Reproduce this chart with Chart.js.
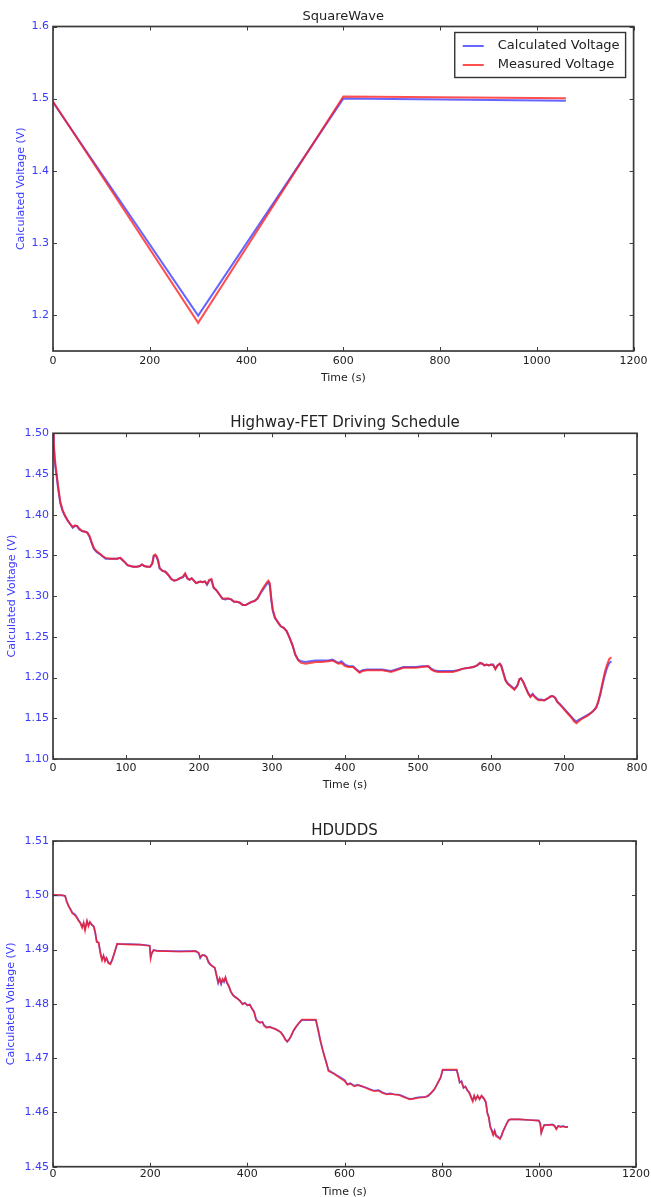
<!DOCTYPE html>
<html>
<head>
<meta charset="utf-8">
<script src="https://cdn.jsdelivr.net/npm/chart.js@4"></script>
<style>
  html, body { margin: 0; padding: 0; background: #fff; overflow: hidden; width: 651px; height: 1197px; }
  .wrap { position: absolute; left: 0; width: 651px; }
  canvas { display: block; }
</style>
</head>
<body>
<div class="wrap" style="top:0px"><canvas id="c1" width="651" height="390"></canvas></div>
<div class="wrap" style="top:390px"><canvas id="c2" width="651" height="410"></canvas></div>
<div class="wrap" style="top:800px"><canvas id="c3" width="651" height="405"></canvas></div>
<script>
// ---------- DATA ----------
const seriesNames = ['Calculated Voltage', 'Measured Voltage'];
const titles = ['SquareWave', 'Highway-FET Driving Schedule', 'HDUDDS'];
const xAxisTitle = 'Time (s)';
const yAxisTitle = 'Calculated Voltage (V)';

// Chart 1: SquareWave
const sqTime = [0, 300, 600, 1060];
const sqCalc = [1.495, 1.199, 1.500, 1.497];
const sqMeas = [1.496, 1.189, 1.503, 1.5005];
const sqXTicks = [0, 200, 400, 600, 800, 1000, 1200];
const sqYTicks = [1.2, 1.3, 1.4, 1.5, 1.6];

// Chart 2: Highway-FET
const fetTime = [0,1,2,3,5,7,10,13,16,20, 24,27,30,33,36,40,44,47,50,53, 56,60,64,68,72,78,84,88,92,95,
  98,102,106,110,115,119,122,125,129,133, 136,138,140,142,144,146,150,154,158,162, 166,170,174,178,181,184,187,190,193,196,
  199,202,205,208,211,214,217,220,224,228, 232,236,240,244,248,252,256,260,264,268, 272,276,280,284,287,290,293,295,297,299,
  301,304,308,312,316,320,324,328,332,336, 340,346,352,360,368,377,383,387,391,395, 400,405,411,416,420,424,430,440,451,457,
  463,470,480,490,497,505,514,518,522,527, 531,540,548,555,562,570,576,581,585,588, 591,594,597,600,603,606,609,612,614,617,
  620,623,627,632,636,639,641,644,648,651, 654,657,661,665,669,673,677,682,685,688, 691,694,698,702,706,710,714,717,720,724,
  728,732,736,740,744,747,750,753,756,759, 762,765];
const fetCalc = [1.500,1.485,1.470,1.460,1.447,1.432,1.414,1.405,1.399,1.393, 1.388,1.384,1.386,1.386,1.382,1.380,1.379,1.378,1.373,1.365,
  1.358,1.354,1.352,1.349,1.346,1.346,1.346,1.346,1.347,1.344, 1.342,1.338,1.337,1.336,1.336,1.337,1.339,1.337,1.336,1.336,
  1.340,1.349,1.350,1.348,1.343,1.334,1.331,1.330,1.326,1.321, 1.319,1.320,1.322,1.323,1.327,1.322,1.320,1.322,1.319,1.316,
  1.317,1.318,1.317,1.318,1.314,1.319,1.320,1.310,1.307,1.302, 1.297,1.296,1.297,1.296,1.293,1.293,1.292,1.289,1.289,1.291,
  1.293,1.294,1.297,1.303,1.307,1.311,1.315,1.317,1.313,1.295, 1.282,1.273,1.268,1.263,1.261,1.257,1.249,1.240,1.228,1.222,
  1.220,1.219,1.220,1.221,1.221,1.221,1.222,1.220,1.218,1.220, 1.216,1.214,1.214,1.210,1.207,1.209,1.210,1.210,1.210,1.209,
  1.208,1.210,1.213,1.213,1.213,1.214,1.214,1.211,1.209,1.208, 1.208,1.208,1.208,1.209,1.211,1.212,1.213,1.215,1.218,1.217,
  1.215,1.216,1.215,1.216,1.216,1.211,1.215,1.217,1.215,1.206, 1.197,1.193,1.190,1.186,1.190,1.198,1.199,1.195,1.187,1.181,
  1.177,1.180,1.176,1.173,1.173,1.172,1.174,1.177,1.177,1.175, 1.170,1.168,1.164,1.160,1.156,1.152,1.148,1.146,1.148,1.150,
  1.152,1.154,1.156,1.159,1.163,1.170,1.180,1.192,1.203,1.212, 1.218,1.220];
const fetMeas = [1.500,1.490,1.476,1.465,1.450,1.435,1.416,1.406,1.400,1.393, 1.388,1.385,1.387,1.386,1.383,1.380,1.379,1.378,1.374,1.366,
  1.359,1.355,1.352,1.349,1.347,1.346,1.346,1.346,1.347,1.345, 1.342,1.338,1.337,1.336,1.336,1.337,1.339,1.337,1.336,1.336,
  1.340,1.350,1.351,1.349,1.344,1.335,1.331,1.330,1.326,1.321, 1.319,1.320,1.322,1.324,1.328,1.322,1.320,1.322,1.319,1.316,
  1.317,1.318,1.317,1.318,1.315,1.320,1.321,1.311,1.307,1.302, 1.297,1.297,1.297,1.296,1.293,1.293,1.292,1.289,1.289,1.291,
  1.293,1.294,1.297,1.304,1.309,1.313,1.317,1.319,1.316,1.298, 1.284,1.274,1.268,1.263,1.261,1.257,1.249,1.240,1.228,1.221,
  1.218,1.217,1.218,1.219,1.219,1.220,1.221,1.219,1.217,1.218, 1.214,1.213,1.213,1.209,1.206,1.208,1.209,1.209,1.209,1.208,
  1.207,1.209,1.212,1.212,1.212,1.213,1.214,1.210,1.208,1.207, 1.207,1.207,1.207,1.209,1.211,1.212,1.213,1.215,1.218,1.217,
  1.215,1.216,1.215,1.216,1.215,1.210,1.215,1.217,1.214,1.205, 1.196,1.192,1.189,1.185,1.190,1.198,1.199,1.195,1.186,1.180,
  1.176,1.179,1.175,1.172,1.172,1.172,1.174,1.177,1.177,1.175, 1.170,1.167,1.163,1.159,1.155,1.151,1.146,1.144,1.146,1.149,
  1.151,1.153,1.156,1.159,1.163,1.171,1.182,1.195,1.207,1.216, 1.223,1.225];
const fetXTicks = [0, 100, 200, 300, 400, 500, 600, 700, 800];
const fetYTicks = [1.10, 1.15, 1.20, 1.25, 1.30, 1.35, 1.40, 1.45, 1.50];

// Chart 3: HDUDDS
const hdTime = [0,10,20,25,28,32,36,40,44,48, 52,56,60,63,66,70,73,76,80,84, 87,90,94,98,101,104,107,110,114,118,
  122,127,132,140,160,180,195,199,201,203, 207,215,235,260,294,300,303,307,311,316, 320,324,328,333,337,340,343,346,349,352,
  355,358,362,366,371,375,380,385,390,395, 400,405,410,414,418,422,426,431,435,440, 446,452,458,464,469,474,478,482,486,490,
  495,500,507,512,525,541,546,550,555,559, 563,567,572,578,585,593,600,606,612,620, 627,635,644,652,661,670,678,687,695,703,
  712,720,728,734,740,746,755,765,772,778, 785,791,798,802,815,831,834,837,841,845, 849,853,857,861,864,867,870,874,878,882,
  887,891,894,897,900,903,906,909,912,916, 920,923,926,930,934,938,942,960,980,1000, 1003,1005,1008,1011,1020,1028,1032,1036,1040,1045,
  1050,1055,1060];
const hdCalc = [1.5000,1.5000,1.5000,1.4999,1.4990,1.4980,1.4975,1.4968,1.4966,1.4962, 1.4955,1.4950,1.4942,1.4948,1.4938,1.4952,1.4945,1.4950,1.4946,1.4942,
  1.4930,1.4915,1.4912,1.4893,1.4882,1.4888,1.4880,1.4885,1.4876,1.4874, 1.4882,1.4895,1.4910,1.4910,1.4910,1.4909,1.4908,1.4907,1.4886,1.4892,
  1.4899,1.4898,1.4897,1.4897,1.4897,1.4893,1.4884,1.4889,1.4890,1.4887, 1.4876,1.4872,1.4870,1.4866,1.4850,1.4838,1.4846,1.4836,1.4845,1.4840,
  1.4848,1.4838,1.4832,1.4822,1.4816,1.4812,1.4810,1.4805,1.4800,1.4802, 1.4797,1.4799,1.4790,1.4786,1.4772,1.4768,1.4765,1.4767,1.4760,1.4757,
  1.4758,1.4755,1.4754,1.4750,1.4748,1.4742,1.4735,1.4730,1.4734,1.4740, 1.4750,1.4757,1.4765,1.4770,1.4770,1.4770,1.4750,1.4733,1.4715,1.4702,
  1.4690,1.4678,1.4675,1.4672,1.4668,1.4664,1.4660,1.4652,1.4654,1.4649, 1.4651,1.4648,1.4646,1.4643,1.4640,1.4641,1.4637,1.4634,1.4635,1.4633,
  1.4633,1.4630,1.4627,1.4625,1.4625,1.4627,1.4628,1.4628,1.4630,1.4635, 1.4642,1.4652,1.4664,1.4678,1.4678,1.4678,1.4668,1.4655,1.4658,1.4645,
  1.4648,1.4640,1.4637,1.4628,1.4622,1.4630,1.4625,1.4630,1.4625,1.4630, 1.4625,1.4618,1.4600,1.4592,1.4575,1.4568,1.4560,1.4567,1.4558,1.4556,
  1.4552,1.4557,1.4565,1.4572,1.4580,1.4586,1.4587,1.4587,1.4586,1.4585, 1.4580,1.4563,1.4570,1.4577,1.4577,1.4578,1.4576,1.4570,1.4575,1.4574,
  1.4575,1.4573,1.4574];
const hdMeas = [1.5001,1.5001,1.5000,1.4998,1.4988,1.4981,1.4973,1.4966,1.4964,1.4960, 1.4954,1.4949,1.4940,1.4950,1.4935,1.4953,1.4943,1.4951,1.4945,1.4943,
  1.4932,1.4914,1.4913,1.4890,1.4880,1.4889,1.4878,1.4884,1.4875,1.4873, 1.4881,1.4896,1.4911,1.4910,1.4909,1.4909,1.4907,1.4907,1.4884,1.4893,
  1.4899,1.4897,1.4897,1.4896,1.4897,1.4894,1.4886,1.4890,1.4889,1.4886, 1.4878,1.4873,1.4869,1.4867,1.4852,1.4840,1.4847,1.4838,1.4846,1.4842,
  1.4849,1.4840,1.4833,1.4823,1.4815,1.4813,1.4809,1.4806,1.4799,1.4801, 1.4798,1.4798,1.4791,1.4784,1.4770,1.4767,1.4766,1.4766,1.4759,1.4756,
  1.4757,1.4756,1.4753,1.4751,1.4747,1.4741,1.4734,1.4731,1.4735,1.4741, 1.4751,1.4758,1.4766,1.4771,1.4771,1.4771,1.4752,1.4734,1.4716,1.4703,
  1.4691,1.4676,1.4674,1.4671,1.4667,1.4662,1.4658,1.4651,1.4653,1.4648, 1.4650,1.4649,1.4645,1.4642,1.4639,1.4640,1.4636,1.4633,1.4634,1.4633,
  1.4632,1.4629,1.4626,1.4624,1.4625,1.4626,1.4627,1.4628,1.4631,1.4636, 1.4643,1.4653,1.4665,1.4679,1.4679,1.4679,1.4667,1.4656,1.4656,1.4646,
  1.4647,1.4641,1.4635,1.4626,1.4620,1.4631,1.4623,1.4631,1.4624,1.4631, 1.4626,1.4619,1.4598,1.4590,1.4572,1.4566,1.4558,1.4565,1.4556,1.4554,
  1.4551,1.4556,1.4564,1.4572,1.4580,1.4586,1.4587,1.4587,1.4586,1.4585, 1.4578,1.4562,1.4571,1.4576,1.4577,1.4577,1.4575,1.4569,1.4575,1.4573,
  1.4574,1.4573,1.4573];
const hdXTicks = [0, 200, 400, 600, 800, 1000, 1200];
const hdYTicks = [1.45, 1.46, 1.47, 1.48, 1.49, 1.50, 1.51];

// ---------- RENDERING ----------
const FONT = '"DejaVu Sans", "Liberation Sans", sans-serif';
const BLUE_LINE = 'rgba(20,20,255,0.65)';
const RED_LINE = 'rgba(255,20,20,0.75)';
const TICK_BLUE = '#3a3aff';
const TEXT_DARK = '#222';
const FRAME = '#3a3a3a';

const framePlugin = {
  id: 'frameTicks',
  afterDatasetsDraw(chart) {
    const {ctx, chartArea: a, scales} = chart;
    ctx.save();
    ctx.strokeStyle = FRAME;
    ctx.lineWidth = 1;
    const L = 4;
    ctx.beginPath();
    scales.x.ticks.forEach(t => {
      const px = Math.round(scales.x.getPixelForValue(t.value)) + 0.5;
      ctx.moveTo(px, a.bottom); ctx.lineTo(px, a.bottom - L);
      ctx.moveTo(px, a.top); ctx.lineTo(px, a.top + L);
    });
    scales.y.ticks.forEach(t => {
      const py = Math.round(scales.y.getPixelForValue(t.value)) + 0.5;
      ctx.moveTo(a.left, py); ctx.lineTo(a.left + L, py);
      ctx.moveTo(a.right, py); ctx.lineTo(a.right - L, py);
    });
    ctx.stroke();
    ctx.lineWidth = 1.7;
    ctx.strokeRect(a.left, a.top, a.right - a.left, a.bottom - a.top);
    ctx.restore();
  }
};

const boxLegendPlugin = {
  id: 'boxLegend',
  afterDraw(chart, args, opts) {
    if (!opts || !opts.display) return;
    const {ctx, chartArea: a} = chart;
    const ds = chart.data.datasets;
    const fontSize = 13;
    ctx.save();
    ctx.font = fontSize + 'px ' + FONT;
    let maxW = 0;
    ds.forEach(d => { maxW = Math.max(maxW, ctx.measureText(d.label).width); });
    const rowH = 19, padX = 8, lineLen = 21, gap = 14, padY = 3;
    const w = padX + lineLen + gap + maxW + 6;
    const h = padY * 2 + rowH * ds.length + 1;
    const x0 = a.right - 8 - w;
    const y0 = a.top + 6;
    ctx.fillStyle = '#fff';
    ctx.fillRect(x0, y0, w, h);
    ctx.strokeStyle = '#333';
    ctx.lineWidth = 1.4;
    ctx.strokeRect(x0, y0, w, h);
    ds.forEach((d, i) => {
      const cy = y0 + padY + rowH * i + rowH / 2 + 1;
      ctx.strokeStyle = d.borderColor;
      ctx.lineWidth = 2;
      ctx.beginPath();
      ctx.moveTo(x0 + padX, cy); ctx.lineTo(x0 + padX + lineLen, cy);
      ctx.stroke();
      ctx.fillStyle = TEXT_DARK;
      ctx.textBaseline = 'middle';
      ctx.textAlign = 'left';
      ctx.fillText(d.label, x0 + padX + lineLen + gap, cy);
    });
    ctx.restore();
  }
};

function makeChart(id, cfg) {
  const pts = (xs, ys) => xs.map((x, i) => ({x: x, y: ys[i]}));
  return new Chart(document.getElementById(id), {
    type: 'line',
    data: {
      datasets: [
        { label: seriesNames[0], data: pts(cfg.time, cfg.calc), borderColor: BLUE_LINE, borderWidth: cfg.lw, pointRadius: 0, tension: 0, order: 1 },
        { label: seriesNames[1], data: pts(cfg.time, cfg.meas), borderColor: RED_LINE, borderWidth: cfg.lw, pointRadius: 0, tension: 0, order: 0 }
      ]
    },
    options: {
      responsive: false,
      animation: false,
      devicePixelRatio: 1,
      layout: { padding: { left: 0, right: cfg.padRight, top: 0, bottom: 0 } },
      plugins: {
        legend: { display: false },
        tooltip: { enabled: false },
        title: {
          display: true, text: cfg.title, color: TEXT_DARK, fullSize: false,
          font: { family: FONT, size: cfg.titleSize, weight: 'normal', lineHeight: 1.2 },
          padding: { top: cfg.titlePadTop, bottom: cfg.titlePadBottom }
        },
        boxLegend: { display: !!cfg.legend }
      },
      scales: {
        x: {
          type: 'linear',
          min: cfg.xTicks[0], max: cfg.xTicks[cfg.xTicks.length - 1],
          afterBuildTicks: s => { s.ticks = cfg.xTicks.map(v => ({value: v})); },
          afterFit: s => { s.height = cfg.xAxisH; },
          grid: { display: false, drawTicks: false },
          border: { display: false },
          ticks: { color: TEXT_DARK, font: { family: FONT, size: 11 }, padding: cfg.xLabelPad, maxRotation: 0, autoSkip: false,
                   callback: v => String(v) },
          title: { display: true, text: xAxisTitle, color: TEXT_DARK, font: { family: FONT, size: 11 },
                   padding: { top: 0, bottom: cfg.xTitlePadBottom } }
        },
        y: {
          type: 'linear',
          min: cfg.yMin, max: cfg.yMax,
          afterBuildTicks: s => { s.ticks = cfg.yTicks.map(v => ({value: v})); },
          afterFit: s => { s.width = 53; },
          grid: { display: false, drawTicks: false },
          border: { display: false },
          ticks: { color: TICK_BLUE, font: { family: FONT, size: 11 }, padding: 4,
                   callback: v => Number(v).toFixed(cfg.yDec) },
          title: { display: true, text: yAxisTitle, color: TICK_BLUE, font: { family: FONT, size: 11 },
                   padding: { top: cfg.yTitlePad, bottom: 0 } }
        }
      }
    },
    plugins: [framePlugin, boxLegendPlugin]
  });
}

makeChart('c1', {
  time: sqTime, calc: sqCalc, meas: sqMeas, xTicks: sqXTicks, yTicks: sqYTicks,
  yMin: 1.15, yMax: 1.6, yDec: 1, title: titles[0], titleSize: 13, titlePadTop: 9.2, titlePadBottom: 1.7,
  xAxisH: 39, xLabelPad: 3.4, xTitlePadBottom: 5.4, yTitlePad: 15, padRight: 15, lw: 2, legend: true
});
makeChart('c2', {
  time: fetTime, calc: fetCalc, meas: fetMeas, xTicks: fetXTicks, yTicks: fetYTicks,
  yMin: 1.10, yMax: 1.50, yDec: 2, title: titles[1], titleSize: 15, titlePadTop: 23.8, titlePadBottom: 1.5,
  xAxisH: 41, xLabelPad: 2.7, xTitlePadBottom: 8.4, yTitlePad: 5.9, padRight: 14, lw: 2, legend: false
});
makeChart('c3', {
  time: hdTime, calc: hdCalc, meas: hdMeas, xTicks: hdXTicks, yTicks: hdYTicks,
  yMin: 1.45, yMax: 1.51, yDec: 2, title: titles[2], titleSize: 15, titlePadTop: 22, titlePadBottom: 1,
  xAxisH: 38.3, xLabelPad: 1, xTitlePadBottom: 6.4, yTitlePad: 4.4, padRight: 14, lw: 1.7, legend: false
});
</script>
</body>
</html>
